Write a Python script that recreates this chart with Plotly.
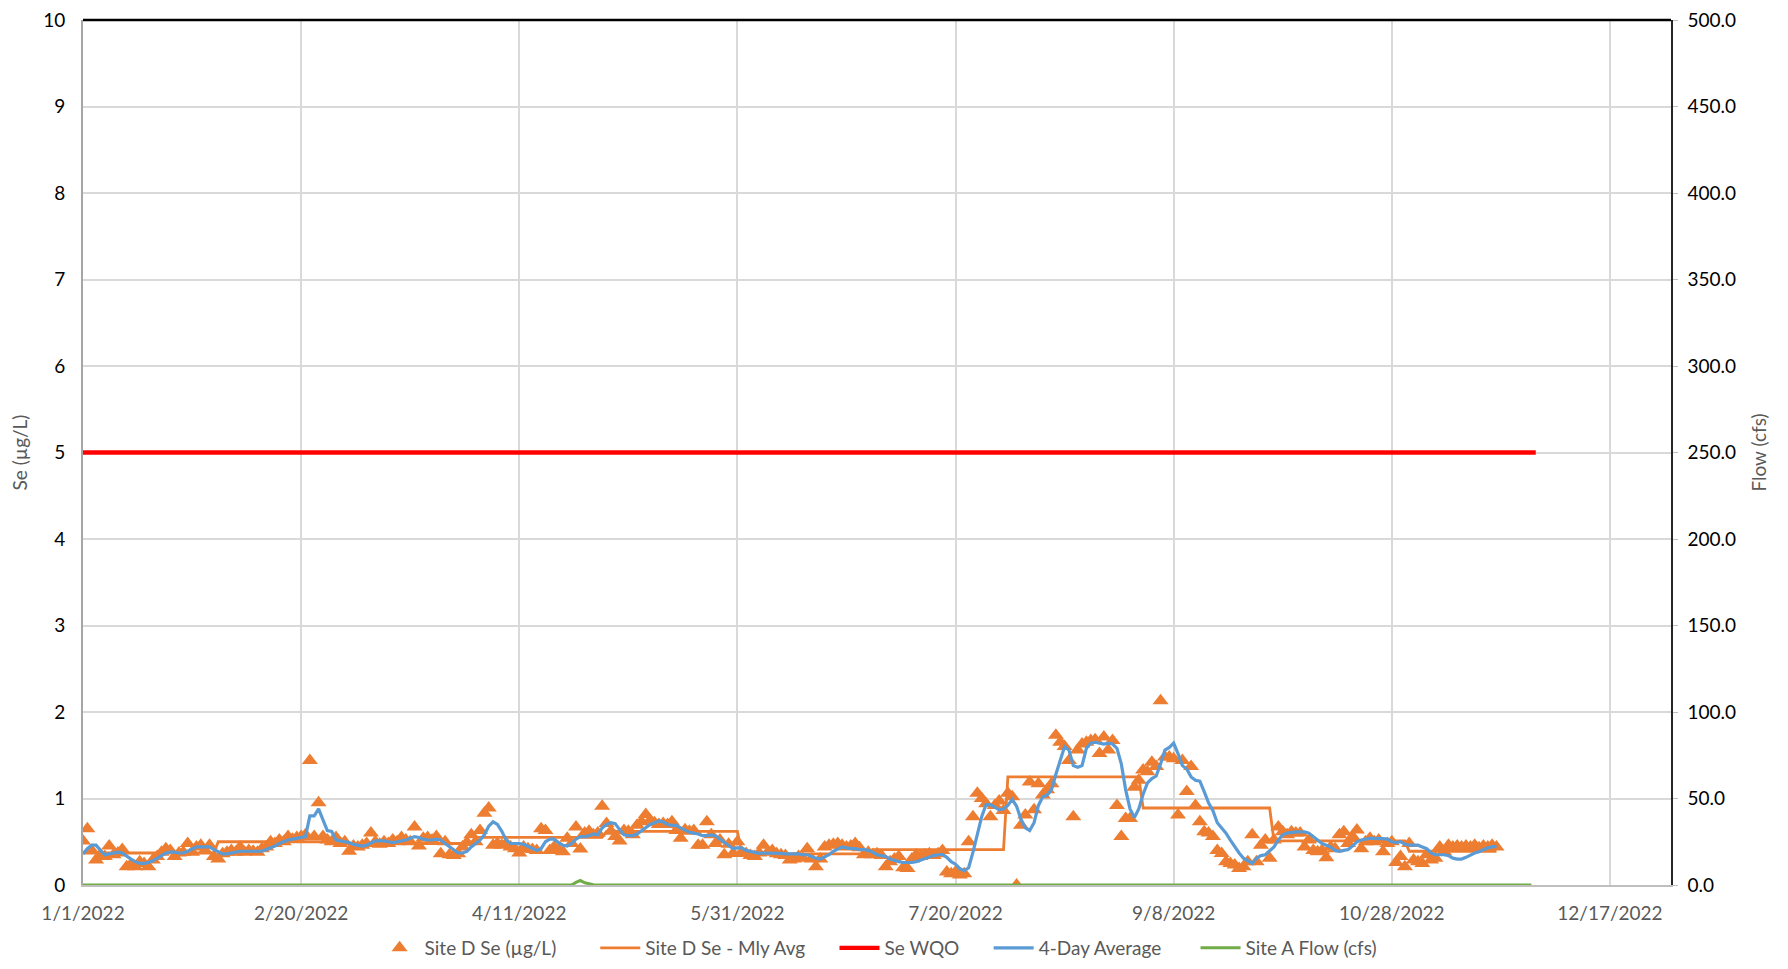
import plotly.graph_objects as go
import pandas as pd

START = "2022-01-01"

# Daily Site D Se (ug/L), Jan 1 .. Nov 21, 2022
SE_DAILY = [
    0.51, 0.65, 0.40, 0.29, 0.35, 0.33, 0.45, 0.35, 0.37, 0.41,
    0.21, 0.24, 0.21, 0.27, 0.25, 0.21, 0.29, 0.33, 0.38, 0.42,
    0.40, 0.33, 0.37, 0.38, 0.48, 0.38, 0.44, 0.46, 0.40, 0.46,
    0.33, 0.30, 0.36, 0.38, 0.40, 0.38, 0.44, 0.38, 0.40, 0.39,
    0.38, 0.42, 0.44, 0.50, 0.48, 0.52, 0.50, 0.56, 0.53, 0.55,
    0.56, 0.58, 1.44, 0.56, 0.95, 0.56, 0.52, 0.50, 0.55, 0.48,
    0.50, 0.39, 0.45, 0.44, 0.46, 0.48, 0.60, 0.50, 0.47, 0.50,
    0.48, 0.52, 0.50, 0.55, 0.52, 0.50, 0.67, 0.45, 0.54, 0.55,
    0.52, 0.56, 0.36, 0.50, 0.35, 0.34, 0.36, 0.44, 0.49, 0.58,
    0.50, 0.63, 0.83, 0.89, 0.46, 0.48, 0.46, 0.48, 0.44, 0.42,
    0.37, 0.44, 0.42, 0.41, 0.40, 0.65, 0.63, 0.40, 0.44, 0.41,
    0.385, 0.54, 0.48, 0.67, 0.415, 0.60, 0.62, 0.58, 0.60, 0.91,
    0.71, 0.62, 0.56, 0.51, 0.63, 0.62, 0.58, 0.69, 0.73, 0.815,
    0.75, 0.72, 0.70, 0.71, 0.70, 0.73, 0.63, 0.54, 0.64, 0.62,
    0.63, 0.46, 0.46, 0.73, 0.58, 0.48, 0.52, 0.35, 0.47, 0.365,
    0.50, 0.38, 0.365, 0.34, 0.33, 0.37, 0.46, 0.38, 0.40, 0.36,
    0.35, 0.34, 0.29, 0.30, 0.33, 0.31, 0.42, 0.30, 0.21, 0.30,
    0.44, 0.46, 0.47, 0.48, 0.46, 0.44, 0.45, 0.48, 0.43, 0.35,
    0.38, 0.35, 0.36, 0.34, 0.21, 0.27, 0.30, 0.33, 0.20, 0.19,
    0.30, 0.35, 0.33, 0.35, 0.36, 0.34, 0.36, 0.40, 0.15, 0.13,
    0.15, 0.115, 0.13, 0.50, 0.79, 1.06, 1.00, 0.94, 0.79, 0.92,
    0.97, 0.86, 1.06, 1.02, 0.00, 0.69, 0.81, 1.19, 0.87, 1.17,
    1.04, 1.10, 1.17, 1.73, 1.65, 1.60, 1.44, 0.79, 1.56, 1.63,
    1.65, 1.67, 1.68, 1.52, 1.71, 1.56, 1.67, 0.92, 0.56, 0.77,
    0.77, 1.13, 1.21, 1.33, 1.31, 1.42, 1.37, 2.13, 1.48, 1.48,
    1.46, 0.81, 1.44, 1.08, 1.37, 0.92, 0.73, 0.615, 0.60, 0.56,
    0.40, 0.365, 0.27, 0.25, 0.23, 0.19, 0.21, 0.27, 0.58, 0.27,
    0.46, 0.52, 0.31, 0.52, 0.67, 0.615, 0.58, 0.615, 0.60, 0.60,
    0.44, 0.52, 0.40, 0.385, 0.40, 0.315, 0.44, 0.42, 0.58, 0.615,
    0.48, 0.56, 0.635, 0.42, 0.50, 0.54, 0.50, 0.52, 0.385, 0.48,
    0.50, 0.26, 0.33, 0.21, 0.48, 0.29, 0.27, 0.25, 0.35, 0.29,
    0.31, 0.44, 0.385, 0.46, 0.44, 0.45, 0.44, 0.45, 0.44, 0.46,
    0.43, 0.45, 0.44, 0.46, 0.44,
]

# 4-day average, same days
AVG4 = [
    0.36, 0.42, 0.46, 0.46, 0.40, 0.35, 0.36, 0.37, 0.38, 0.37,
    0.33, 0.30, 0.27, 0.25, 0.25, 0.26, 0.28, 0.31, 0.34, 0.37,
    0.38, 0.38, 0.37, 0.37, 0.39, 0.42, 0.44, 0.44, 0.44, 0.44,
    0.41, 0.38, 0.36, 0.36, 0.37, 0.38, 0.39, 0.39, 0.39, 0.39,
    0.39, 0.39, 0.41, 0.43, 0.45, 0.48, 0.50, 0.52, 0.53, 0.54,
    0.55, 0.56, 0.80, 0.80, 0.88, 0.75, 0.63, 0.62, 0.52, 0.51,
    0.50, 0.49, 0.47, 0.46, 0.45, 0.46, 0.49, 0.51, 0.51, 0.51,
    0.50, 0.49, 0.50, 0.51, 0.52, 0.54, 0.56, 0.55, 0.53, 0.52,
    0.52, 0.53, 0.52, 0.48, 0.44, 0.40, 0.37, 0.37, 0.39, 0.44,
    0.48, 0.52, 0.58, 0.68, 0.73, 0.70, 0.62, 0.52, 0.48, 0.48,
    0.48, 0.47, 0.45, 0.43, 0.40, 0.42, 0.50, 0.53, 0.53, 0.49,
    0.46, 0.45, 0.48, 0.53, 0.56, 0.56, 0.57, 0.59, 0.58, 0.66,
    0.70, 0.72, 0.71, 0.64, 0.58, 0.57, 0.57, 0.59, 0.63, 0.67,
    0.70, 0.72, 0.74, 0.73, 0.70, 0.69, 0.69, 0.66, 0.63, 0.61,
    0.60, 0.59, 0.57, 0.57, 0.58, 0.57, 0.53, 0.49, 0.45, 0.42,
    0.43, 0.43, 0.40, 0.39, 0.38, 0.365, 0.37, 0.37, 0.37, 0.37,
    0.365, 0.36, 0.36, 0.36, 0.36, 0.35, 0.35, 0.33, 0.31, 0.30,
    0.32, 0.35, 0.39, 0.42, 0.44, 0.43, 0.42, 0.42, 0.41, 0.41,
    0.40, 0.38, 0.35, 0.34, 0.33, 0.30, 0.28, 0.27, 0.26, 0.26,
    0.26, 0.27, 0.29, 0.31, 0.33, 0.34, 0.35, 0.355, 0.32, 0.27,
    0.24, 0.19, 0.165, 0.20, 0.38, 0.60, 0.79, 0.93, 0.93, 0.90,
    0.87, 0.88, 0.92, 0.99, 0.91, 0.76, 0.66, 0.63, 0.72, 0.92,
    1.02, 1.04, 1.10, 1.28, 1.44, 1.60, 1.56, 1.38, 1.36, 1.38,
    1.58, 1.64, 1.65, 1.64, 1.63, 1.64, 1.63, 1.58, 1.40, 1.10,
    0.88, 0.78, 0.88, 1.05, 1.18, 1.23, 1.26, 1.40, 1.56, 1.59,
    1.64, 1.52, 1.38, 1.34, 1.25, 1.21, 1.20, 1.08, 0.95, 0.86,
    0.72, 0.66, 0.60, 0.52, 0.44, 0.37, 0.31, 0.28, 0.25, 0.31,
    0.34, 0.35, 0.40, 0.44, 0.52, 0.58, 0.60, 0.61, 0.615, 0.615,
    0.615, 0.60, 0.56, 0.52, 0.48, 0.46, 0.44, 0.40, 0.39, 0.40,
    0.41, 0.45, 0.50, 0.52, 0.53, 0.54, 0.54, 0.54, 0.535, 0.53,
    0.50, 0.49, 0.50, 0.47, 0.46, 0.46, 0.46, 0.44, 0.42, 0.37,
    0.35, 0.35, 0.35, 0.34, 0.31, 0.30, 0.30, 0.32, 0.35, 0.37,
    0.385, 0.41, 0.43, 0.44, 0.45,
]

# Monthly averages (step line)
MONTH_FIRST = ["2022-01-01", "2022-02-01", "2022-03-01", "2022-04-01", "2022-05-01", "2022-06-01",
               "2022-07-01", "2022-08-01", "2022-09-01", "2022-10-01", "2022-11-01"]
MONTH_LAST = ["2022-01-31", "2022-02-28", "2022-03-31", "2022-04-30", "2022-05-31", "2022-06-30",
              "2022-07-31", "2022-08-31", "2022-09-30", "2022-10-31", "2022-11-21"]
MLY_AVG = [0.37, 0.50, 0.48, 0.55, 0.62, 0.36, 0.41, 1.25, 0.89, 0.51, 0.39]

# Water quality objective
WQO_DATES = ["2022-01-01", "2022-11-30"]
WQO = [5, 5]

# Site A flow (cfs)
FLOW_DATES = ["2022-01-01", "2022-04-23", "2022-04-24", "2022-04-25", "2022-04-26",
              "2022-04-27", "2022-04-28", "2022-04-29", "2022-11-29"]
FLOW = [0.0, 0.0, 1.5, 2.6, 1.3, 0.6, 0.2, 0.0, 0.0]

X_TICKS = ["2022-01-01", "2022-02-20", "2022-04-11", "2022-05-31",
           "2022-07-20", "2022-09-08", "2022-10-28", "2022-12-17"]
X_TICK_LABELS = ["1/1/2022", "2/20/2022", "4/11/2022", "5/31/2022",
                 "7/20/2022", "9/8/2022", "10/28/2022", "12/17/2022"]

days = pd.date_range(START, periods=len(SE_DAILY), freq="D")

step_x, step_y = [], []
for a, b, v in zip(MONTH_FIRST, MONTH_LAST, MLY_AVG):
    step_x += [a, b]
    step_y += [v, v]

FONT = "Lato"
GRAY = "#595959"
NB = "\u00a0"

fig = go.Figure()
fig.add_trace(go.Scatter(x=days, y=SE_DAILY, mode="markers", name="Site D Se (µg/L)" + NB * 7,
                         marker=dict(symbol="triangle-up", size=14, color="#ED7D31")))
fig.add_trace(go.Scatter(x=step_x, y=step_y, mode="lines", name="Site D Se - Mly Avg" + NB * 5,
                         line=dict(color="#ED7D31", width=2.8)))
fig.add_trace(go.Scatter(x=WQO_DATES, y=WQO, mode="lines", name="Se WQO" + NB * 5,
                         line=dict(color="#FF0000", width=4.3)))
fig.add_trace(go.Scatter(x=days, y=AVG4, mode="lines", name="4-Day Average" + NB * 6,
                         line=dict(color="#5B9BD5", width=3.2)))
fig.add_trace(go.Scatter(x=FLOW_DATES, y=FLOW, mode="lines", name="Site A Flow (cfs)",
                         line=dict(color="#70AD47", width=3), yaxis="y2"))

# page body adds an 8px margin; figure sized to fit the 1788x969 window
fig.update_layout(
    width=1772, height=953,
    margin=dict(l=75, r=109, t=12, b=76, autoexpand=False),
    paper_bgcolor="white", plot_bgcolor="white",
    font=dict(family=FONT, size=19, color=GRAY),
    showlegend=True,
    legend=dict(orientation="h", x=0.501, xanchor="center", y=-0.0728, yanchor="middle",
                font=dict(size=19, color=GRAY), itemwidth=40, bgcolor="rgba(0,0,0,0)"),
    xaxis=dict(type="date", range=["2022-01-01", "2022-12-31"], automargin=False,
               tickvals=X_TICKS, ticktext=X_TICK_LABELS,
               showgrid=True, gridcolor="#D9D9D9", gridwidth=1.5,
               showline=True, linecolor="#BFBFBF", linewidth=2,
               ticks="", ticklabelstandoff=10, ticklabeloverflow="allow",
               tickfont=dict(family=FONT, size=19, color=GRAY), zeroline=False),
    yaxis=dict(range=[0, 10], dtick=1, tick0=0, automargin=False,
               showgrid=True, gridcolor="#D9D9D9", gridwidth=1.5,
               showline=True, linecolor="#A6A6A6", linewidth=2,
               ticks="", ticklabelstandoff=12, zeroline=False, ticklabeloverflow="allow",
               tickfont=dict(family=FONT, size=19, color="black"),
               title=dict(text="Se (µg/L)", standoff=19,
                          font=dict(family=FONT, size=19, color=GRAY))),
    yaxis2=dict(range=[0, 500], dtick=50, tick0=0, tickformat=".1f", automargin=False,
                overlaying="y", side="right", showgrid=False, zeroline=False,
                showline=True, linecolor="#262626", linewidth=1.5,
                ticks="outside", ticklen=5, tickcolor="#BFBFBF",
                ticklabelstandoff=6, ticklabeloverflow="allow",
                tickfont=dict(family=FONT, size=19, color="black"),
                title=dict(text="Flow (cfs)", standoff=18,
                           font=dict(family=FONT, size=19, color=GRAY))),
    shapes=[dict(type="line", xref="paper", yref="paper", x0=0, x1=1, y0=1, y1=1,
                 line=dict(color="black", width=2.5))],
)

fig.write_html("out.html")
